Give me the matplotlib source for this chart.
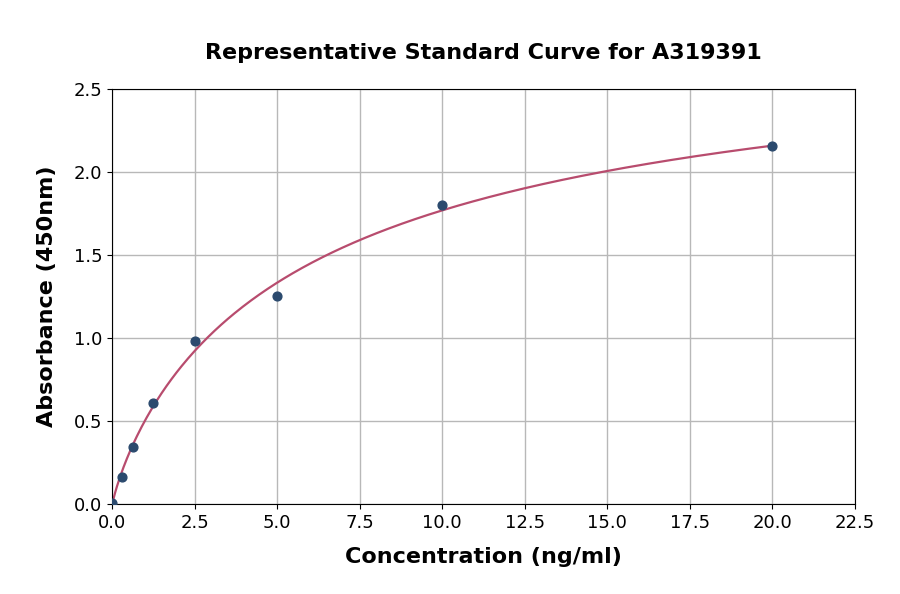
import numpy as np
import matplotlib
matplotlib.use("Agg")
from matplotlib import pyplot as plt

# standard points
conc = np.array([0, 0.3125, 0.625, 1.25, 2.5, 5, 10, 20])
absorb = np.array([0.005, 0.163, 0.343, 0.608, 0.982, 1.253, 1.801, 2.157])

# 4PL fit: y = d + (a - d) / (1 + (x/c)^b), grid over b, c; linear in a, d
best = None
for b in np.linspace(0.5, 2.0, 151):
    for c in np.linspace(1, 60, 591):
        g = 1.0 / (1.0 + (conc / c) ** b)
        A = np.column_stack([g, 1 - g])
        coef, *_ = np.linalg.lstsq(A, absorb, rcond=None)
        err = np.sum((A @ coef - absorb) ** 2)
        if best is None or err < best[0]:
            best = (err, b, c, coef)
_, b, c, (a, d) = best

xs = np.linspace(0, 20, 400)
ys = d + (a - d) / (1 + (xs / c) ** b)

fig = plt.figure(figsize=(9, 5.94), dpi=100)
ax = fig.add_axes([0.1244, 0.1515, 0.8256, 0.6985])
ax.grid(True, color="#b8b8b8", linewidth=1)
ax.set_axisbelow(True)
ax.plot(xs, ys, color="#b84c6e", linewidth=1.6, zorder=2)
ax.scatter(conc, absorb, color="#2b4a6e", s=40, zorder=3)

ax.set_xlim(0, 22.5)
ax.set_ylim(0, 2.5)
ax.set_xticks(np.arange(0, 22.6, 2.5))
ax.set_yticks(np.arange(0, 2.51, 0.5))
ax.tick_params(labelsize=13)
ax.set_xlabel("Concentration (ng/ml)", fontsize=16, fontweight="bold", labelpad=11)
ax.set_ylabel("Absorbance (450nm)", fontsize=16, fontweight="bold", labelpad=12)
ax.set_title("Representative Standard Curve for A319391", fontsize=16,
             fontweight="bold", pad=22)

fig.savefig("out.png", dpi=100)
